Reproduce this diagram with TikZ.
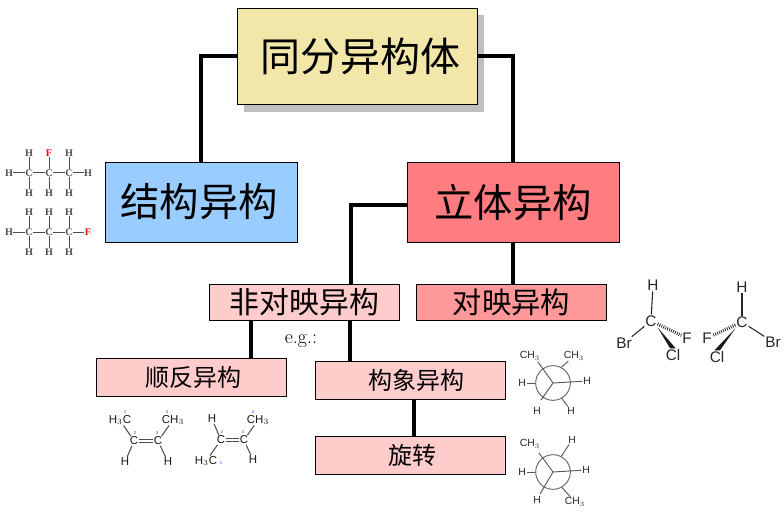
\documentclass[tikz,border=0pt]{standalone}
\usepackage{fontspec}
\setmainfont{Liberation Sans}
\newfontfamily\cjk{Noto Sans CJK SC}
\newfontfamily\serifbold{Liberation Serif}
\usetikzlibrary{shadows}
\definecolor{topfill}{HTML}{F2E6A8}
\definecolor{bluefill}{HTML}{99CCFF}
\definecolor{redfill}{HTML}{FF7C80}
\definecolor{pinkfill}{HTML}{FFCCCC}
\definecolor{rosefill}{HTML}{FF9999}
\tikzset{
  box/.style={draw=black,line width=0.7pt,inner sep=0pt,font=\cjk},
  link/.style={line width=3pt,line cap=butt,line join=miter},
  atom/.style={inner sep=0.6pt,font=\fontsize{11.5pt}{13pt}\selectfont,text=black!85},
  tiny/.style={inner sep=0.2pt,font=\serifbold\bfseries\fontsize{7.6pt}{9pt}\selectfont,text=black!70},
  alkene/.style={inner sep=0.4pt,font=\fontsize{8.6pt}{10pt}\selectfont,text=black!90},
  newman/.style={inner sep=0.4pt,font=\fontsize{7.8pt}{9pt}\selectfont,text=black!85},
  num/.style={inner sep=0pt,font=\fontsize{3.2pt}{4pt}\selectfont,text=blue!80},
  bond/.style={line width=0.75pt,black!70},
  nbond/.style={line width=0.7pt,black!65},
}
\begin{document}
\begin{tikzpicture}[x=0.75pt,y=-0.75pt]
  \useasboundingbox (0,0) rectangle (784,513);
  % boxes
  \node[box,fill=topfill,minimum width=180pt,minimum height=72.7pt,font=\cjk\fontsize{30pt}{34pt}\selectfont,
        drop shadow={shadow xshift=5.2pt,shadow yshift=-5.2pt,fill=black!25,opacity=1}]
                                         (iso)    at (357, 56.5) {\hspace*{5pt}同分异构体};
  \node[box,fill=bluefill,minimum width=144pt,minimum height=60pt,font=\cjk\fontsize{29.5pt}{34pt}\selectfont]
                                         (struct) at (201,202)   {\hspace*{-3pt}结构异构};
  \node[box,fill=redfill,minimum width=159pt,minimum height=59.3pt,font=\cjk\fontsize{29.5pt}{34pt}\selectfont]
                                         (stereo) at (513,202.5) {立体异构};
  \node[box,fill=pinkfill,minimum width=143pt,minimum height=27pt,font=\cjk\fontsize{22.4pt}{26pt}\selectfont]
                                         (dia)    at (304.5,302) {非对映异构};
  \node[box,fill=rosefill,minimum width=143pt,minimum height=27pt,font=\cjk\fontsize{22pt}{26pt}\selectfont]
                                         (enan)   at (511.5,302) {对映异构};
  \node[box,fill=pinkfill,minimum width=143pt,minimum height=28.5pt,font=\cjk\fontsize{18pt}{22pt}\selectfont]
                                         (cis)    at (191.5,377) {\hspace*{3pt}顺反异构};
  \node[box,fill=pinkfill,minimum width=143pt,minimum height=28.5pt,font=\cjk\fontsize{18pt}{22pt}\selectfont]
                                         (conf)   at (410.5,380) {\hspace*{9pt}构象异构};
  \node[box,fill=pinkfill,minimum width=143pt,minimum height=28.5pt,font=\cjk\fontsize{18pt}{22pt}\selectfont]
                                         (rot)    at (410.5,455) {\hspace*{3pt}旋转};
  \node[inner sep=0pt,font=\fontfamily{lmr}\selectfont\fontsize{15pt}{17pt}\selectfont]
                                         (eg)     at (301,341)   {e.g.:};
  % connectors
  \coordinate (stereoLeft) at (407,205);
  \coordinate (diaTop)     at (351,284);
  \coordinate (diaLeft)    at (251,320);
  \coordinate (diaMid)     at (350,320);
  \coordinate (enanTop)    at (513,284);
  \coordinate (rotUp)      at (414,399);
  \coordinate (rotDown)    at (414,436);
  \draw[link] (iso.west)     -| (struct.north);
  \draw[link] (iso.east)     -| (stereo.north);
  \draw[link] (stereoLeft)   -| (diaTop);
  \draw[link] (stereo.south) -- (enanTop);
  \draw[link] (diaLeft)      -- (diaLeft |- cis.north);
  \draw[link] (diaMid)       -- (diaMid |- conf.north);
  \draw[link] (rotUp)        -- (rotDown);
  % fluoropropanes
  \foreach \name/\x/\y/\txt in {
      a1/29/173/C,a2/49/173/C,a3/69/173/C,ah0/9/173/H,ah9/88/173/H,
      at1/29/153/H,at3/69/153/H,ab1/29/193/H,ab2/49/193/H,ab3/69/193/H,
      b1/29/232/C,b2/49/232/C,b3/69/232/C,bh0/9/232/H,
      bt1/29/212/H,bt2/49/212/H,bt3/69/212/H,bb1/29/252/H,bb2/49/252/H,bb3/69/252/H}
    \node[tiny] (\name) at (\x,\y) {\txt};
  \node[tiny,text=red] (af) at (49,153) {F};
  \node[tiny,text=red] (bf) at (88,232) {F};
  \foreach \p/\q in {ah0/a1,a1/a2,a2/a3,a3/ah9,a1/at1,a1/ab1,a2/af,a2/ab2,a3/at3,a3/ab3,
      bh0/b1,b1/b2,b2/b3,b3/bf,b1/bt1,b1/bb1,b2/bt2,b2/bb2,b3/bt3,b3/bb3}
    \draw[bond] (\p) -- (\q);
  % enantiomers
  \foreach \name/\x/\y/\txt in {
      eh/653/285/H,ec/651/321/C,ebr/624/343/Br,ecl/673/355/Cl,ef/687/338/F,
      gh/742/287/H,gc/742/322/C,gf/707/338/F,gcl/717/357/Cl,gbr/773/342/Br}
    \node[atom] (\name) at (\x,\y) {\txt};
  \foreach \p/\q in {ec/eh,ec/ebr,gc/gh,gc/gbr}
    \draw[line width=0.8pt,black!85] (\p) -- (\q);
  \foreach \p/\q in {ec/ef,gc/gf}
    \draw[line width=2.4pt,black!85,dash pattern=on 0.6pt off 1pt] (\p) -- (\q);
  \fill[black!90] (ec.south east) -- ([xshift=-2.2pt]ecl.north) -- ([xshift=2pt]ecl.north) -- cycle;
  \fill[black!90] (gc.south west) -- ([xshift=-2pt]gcl.north) -- ([xshift=2.2pt]gcl.north) -- cycle;
  % but-2-ene
  \foreach \name/\x/\y/\txt in {
      c1/134/441/C,c2/158/441/C,cm1/120/420/H$_3$C,cm2/173/420/CH$_3$,ch1/125/462/H,ch2/168/462/H,
      d1/221/440/C,d2/244/440/C,dh1/212/419/H,dm2/258/420/CH$_3$,dm1/206/461/H$_3$C,dh2/253/460/H}
    \node[alkene] (\name) at (\x,\y) {\txt};
  \foreach \p/\q in {c1/cm1,c1/ch1,c2/cm2,c2/ch2,d1/dh1,d1/dm1,d2/dm2,d2/dh2}
    \draw[bond] (\p) -- (\q);
  \draw[bond,double,double distance=1.3pt] (c1) -- (c2);
  \draw[bond,double,double distance=1.3pt] (d1) -- (d2);
  \foreach \name/\x/\y/\txt in {
      n1/125/412/1,n2/135/433/2,n3/157/433/3,n4/167/412/4,
      n5/221/463/1,n6/222/432/2,n7/243/432/3,n8/253/412/4}
    \node[num] (\name) at (\x,\y) {\txt};
  % butane
  \foreach \name/\x/\y/\txt in {
      pm1/530/356/CH$_3$,pm2/574/356/CH$_3$,ph1/522/383/H,ph2/587/381/H,ph3/537/411/H,ph4/571/411/H,
      qm1/530/444/CH$_3$,qh2/572/440/H,qh1/522/472/H,qh3/586/470/H,qh4/537/500/H,qm2/575/502/CH$_3$}
    \node[newman] (\name) at (\x,\y) {\txt};
  \foreach \ring/\cy in {pc/383,qc/472}
    \node[circle,draw=black!60,line width=0.7pt,inner sep=0pt,minimum size=26pt] (\ring) at (553,\cy) {};
  \coordinate (pfu) at (538,362);
  \coordinate (pfd) at (541,400);
  \coordinate (qfu) at (539,453);
  \coordinate (qfd) at (540,494);
  \foreach \q in {pfu,pfd,ph2} \draw[nbond] (pc.center) -- (\q);
  \foreach \q in {qfu,qfd,qh3} \draw[nbond] (qc.center) -- (\q);
  \draw[nbond] (pc.180) -- (ph1);
  \draw[nbond] (pc.62)  -- (pm2);
  \draw[nbond] (pc.-60) -- (ph4);
  \draw[nbond] (qc.180) -- (qh1);
  \draw[nbond] (qc.62)  -- (qh2);
  \draw[nbond] (qc.-60) -- (qm2);
\end{tikzpicture}
\end{document}
